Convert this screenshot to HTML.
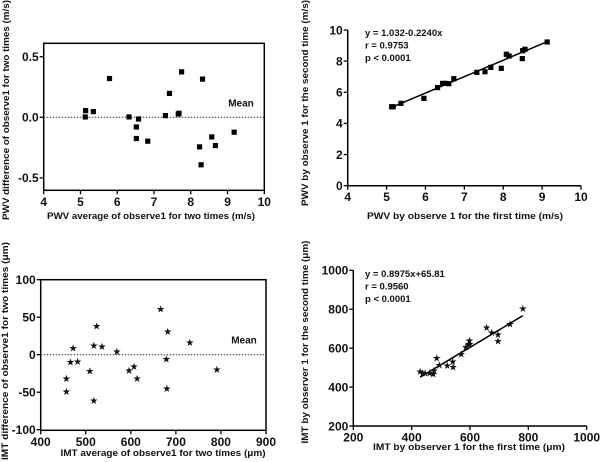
<!DOCTYPE html>
<html><head><meta charset="utf-8">
<style>
html,body{margin:0;padding:0;background:#fff;}
svg{display:block;font-family:"Liberation Sans",Arial,sans-serif;}
text{font-weight:bold;fill:#111;}
</style></head>
<body>
<svg id="chart" width="600" height="462" viewBox="0 0 600 462" xmlns="http://www.w3.org/2000/svg"></svg>
<script>
// Panel A: PWV Bland-Altman
const pwvBaX = [5.14,5.13,5.35,5.79,6.32,6.58,6.52,6.52,6.83,7.31,7.42,7.66,7.68,7.75,8.32,8.24,8.28,8.57,8.67,9.18];
const pwvBaY = [0.055,0.003,0.047,0.32,0.003,-0.014,-0.08,-0.175,-0.197,0.014,0.197,0.027,0.033,0.375,0.315,-0.244,-0.392,-0.162,-0.233,-0.123];
const pwvBaXTicks = [4,5,6,7,8,9,10];
const pwvBaYTicks = [0.5,0.0,-0.5];
const pwvBaYTickLabels = ["0.5","0.0","-0.5"];
// Panel B: PWV regression
const pwvRegX = [5.13,5.17,5.37,5.96,6.31,6.44,6.52,6.6,6.73,7.32,7.53,7.68,7.95,8.08,8.15,8.49,8.5,8.56,9.13];
const pwvRegY = [5.07,5.07,5.29,5.61,6.30,6.57,6.57,6.55,6.87,7.28,7.32,7.6,7.54,8.44,8.33,8.16,8.67,8.76,9.23];
const pwvRegXTicks = [4,5,6,7,8,9,10];
const pwvRegYTicks = [0,2,4,6,8,10];
const pwvFit = [1.055,-0.38];
const pwvFitRange = [5.13,9.13];
// Panel C: IMT Bland-Altman
const imtBaX = [457,457,466,472,482,509,518,524,518,536,569,596,607,614,666,682,679,680,731,791];
const imtBaY = [-32,-49,-10,9,-9,-22,12,38,-61,11,4,-21,-16,-32,61,31,-6,-45,16,-20];
const imtBaXTicks = [400,500,600,700,800,900];
const imtBaYTicks = [100,50,0,-50,-100];
// Panel D: IMT regression
const imtRegX = [429,438,446,461,474,477,486,495,522,541,542,570,586,595,598,599,657,674,696,696,737,781];
const imtRegY = [479,471,471,471,466,483,548,512,510,531,503,570,606,618,637,620,705,680,635,668,724,803];
const imtRegXTicks = [200,400,600,800,1000];
const imtRegYTicks = [200,400,600,800,1000];
const imtFit = [0.8975,65.81];
const imtFitRange = [429,781];

const NS="http://www.w3.org/2000/svg";
const svg=document.getElementById('chart');
function mk(tag,attrs,parent){const e=document.createElementNS(NS,tag);for(const k in attrs)e.setAttribute(k,attrs[k]);(parent||svg).appendChild(e);return e;}
function lin(d0,d1,r0,r1){return v=>r0+(v-d0)*(r1-r0)/(d1-d0);}

function panel(o){
  const g=mk('g',{});
  
  
  const sx=lin(o.xd[0],o.xd[1],o.px[0],o.px[1]);
  const sy=lin(o.yd[0],o.yd[1],o.py[0],o.py[1]);
  const L=o.frame[0],R=o.frame[1],T=o.frame[2],B=o.frame[3];
  let e;
  if(o.box){
    e=mk('rect',{x:L,y:T,width:R-L,height:B-T,fill:'none',stroke:'#000','stroke-width':1.5},g);
    
    
  } else {
    e=mk('line',{x1:L,y1:T,x2:L,y2:B,stroke:'#000','stroke-width':1.5},g);
    
    
    e=mk('line',{x1:L,y1:B,x2:R,y2:B,stroke:'#000','stroke-width':1.5},g);
    
    
  }
  o.xt.forEach(v=>{
    const x=sx(v);
    e=mk('line',{x1:x,y1:B,x2:x,y2:B+4,stroke:'#000','stroke-width':1.3},g);
    
    
    e=mk('text',{x:x,y:B+15.5,'text-anchor':'middle','font-size':12},g);
    e.textContent=String(v);
    
    
  });
  o.yt.forEach((v,i)=>{
    const y=sy(v);
    e=mk('line',{x1:L-4,y1:y,x2:L,y2:y,stroke:'#000','stroke-width':1.3},g);
    
    
    e=mk('text',{x:L-5,y:y+4.3,'text-anchor':'end','font-size':12},g);
    e.textContent=o.ytl?o.ytl[i]:String(v);
    
    
  });
  if(o.mean){
    const y=sy(0);
    e=mk('line',{x1:L,y1:y,x2:R,y2:y,stroke:'#333','stroke-width':1,'stroke-dasharray':'1.5,1.5'},g);
    
    
    e=mk('text',{x:o.mean[0],y:o.mean[1]+3.5,'text-anchor':'middle','font-size':10},g);
    e.textContent='Mean';
    
    
  }
  if(o.fit){
    const f=v=>o.fit[0]*v+o.fit[1];
    const a=o.fitR[0],b=o.fitR[1];
    e=mk('line',{x1:sx(a),y1:sy(f(a)),x2:sx(b),y2:sy(f(b)),stroke:'#000','stroke-width':1.5},g);
    
    
  }
  o.xs.forEach((xv,i)=>{
    const x=sx(xv),y=sy(o.ys[i]);
    if(o.marker==='sq'){
      e=mk('rect',{x:x-2.6,y:y-2.6,width:5.2,height:5.2,fill:'#000'},g);
    } else {
      e=mk('text',{x:x,y:y+3.3,'text-anchor':'middle','font-size':10,'font-family':'"DejaVu Sans",sans-serif'},g);
      e.textContent='★';
    }
    
    
  });
  if(o.notes){
    o.notes.forEach((t,i)=>{
      e=mk('text',{x:o.noteX,y:o.noteY+i*12.5,'font-size':9.5},g);
      e.textContent=t;
      
      
    });
  }
  e=mk('text',{x:o.xtitle[1],y:o.xtitle[2],'text-anchor':'middle','font-size':9.5,textLength:o.xtitle[3],lengthAdjust:'spacingAndGlyphs'},g);
  e.textContent=o.xtitle[0];
  
  
  e=mk('text',{x:0,y:0,'text-anchor':'middle','font-size':9.5,textLength:o.ytitle[3],lengthAdjust:'spacingAndGlyphs',transform:`translate(${o.ytitle[1]},${o.ytitle[2]}) rotate(-90)`},g);
  e.textContent=o.ytitle[0];
  
  
}

panel({name:'pwv-bland-altman-panel',xd:[4,10],px:[43.7,264.3],yd:[0,0.5],py:[117.3,56.7],frame:[43.7,264.3,43.3,190.3],box:true,
  xt:pwvBaXTicks,yt:pwvBaYTicks,ytl:pwvBaYTickLabels,xs:pwvBaX,ys:pwvBaY,marker:'sq',mean:[241,103],
  xtitle:['PWV average of observe1 for two times (m/s)',151,219,208],ytitle:['PWV difference of observe1 for two times (m/s)',9,110,220]});
panel({name:'pwv-regression-panel',xd:[4,10],px:[347.7,581],yd:[0,10],py:[185.7,30],frame:[347.7,581,30,185.7],box:false,
  xt:pwvRegXTicks,yt:pwvRegYTicks,xs:pwvRegX,ys:pwvRegY,marker:'sq',fit:pwvFit,fitR:pwvFitRange,
  notes:['y = 1.032-0.2240x','r = 0.9753','p < 0.0001'],noteX:365,noteY:36,
  xtitle:['PWV by observe 1 for the first time (m/s)',465,219,196],ytitle:['PWV by observe 1 for the second time (m/s)',308,103,206]});
panel({name:'imt-bland-altman-panel',xd:[400,900],px:[40.7,266],yd:[0,100],py:[354.7,279.7],frame:[40.7,266,279.7,430.3],box:true,
  xt:imtBaXTicks,yt:imtBaYTicks,xs:imtBaX,ys:imtBaY,marker:'star',mean:[244,340],
  xtitle:['IMT average of observe1 for two times (μm)',163,456,205],ytitle:['IMT difference of observe1 for two times (μm)',8,351,218]});
panel({name:'imt-regression-panel',xd:[200,1000],px:[353.3,586.7],yd:[200,1000],py:[426,270.3],frame:[353.3,586.7,270.3,426],box:false,
  xt:imtRegXTicks,yt:imtRegYTicks,xs:imtRegX,ys:imtRegY,marker:'star',fit:imtFit,fitR:imtFitRange,
  notes:['y = 0.8975x+65.81','r = 0.9560','p < 0.0001'],noteX:365,noteY:277,
  xtitle:['IMT by observer 1 for the first time (μm)',469,450,192],ytitle:['IMT by observer 1 for the second time (μm)',308,342,203]});
</script>
</body></html>
